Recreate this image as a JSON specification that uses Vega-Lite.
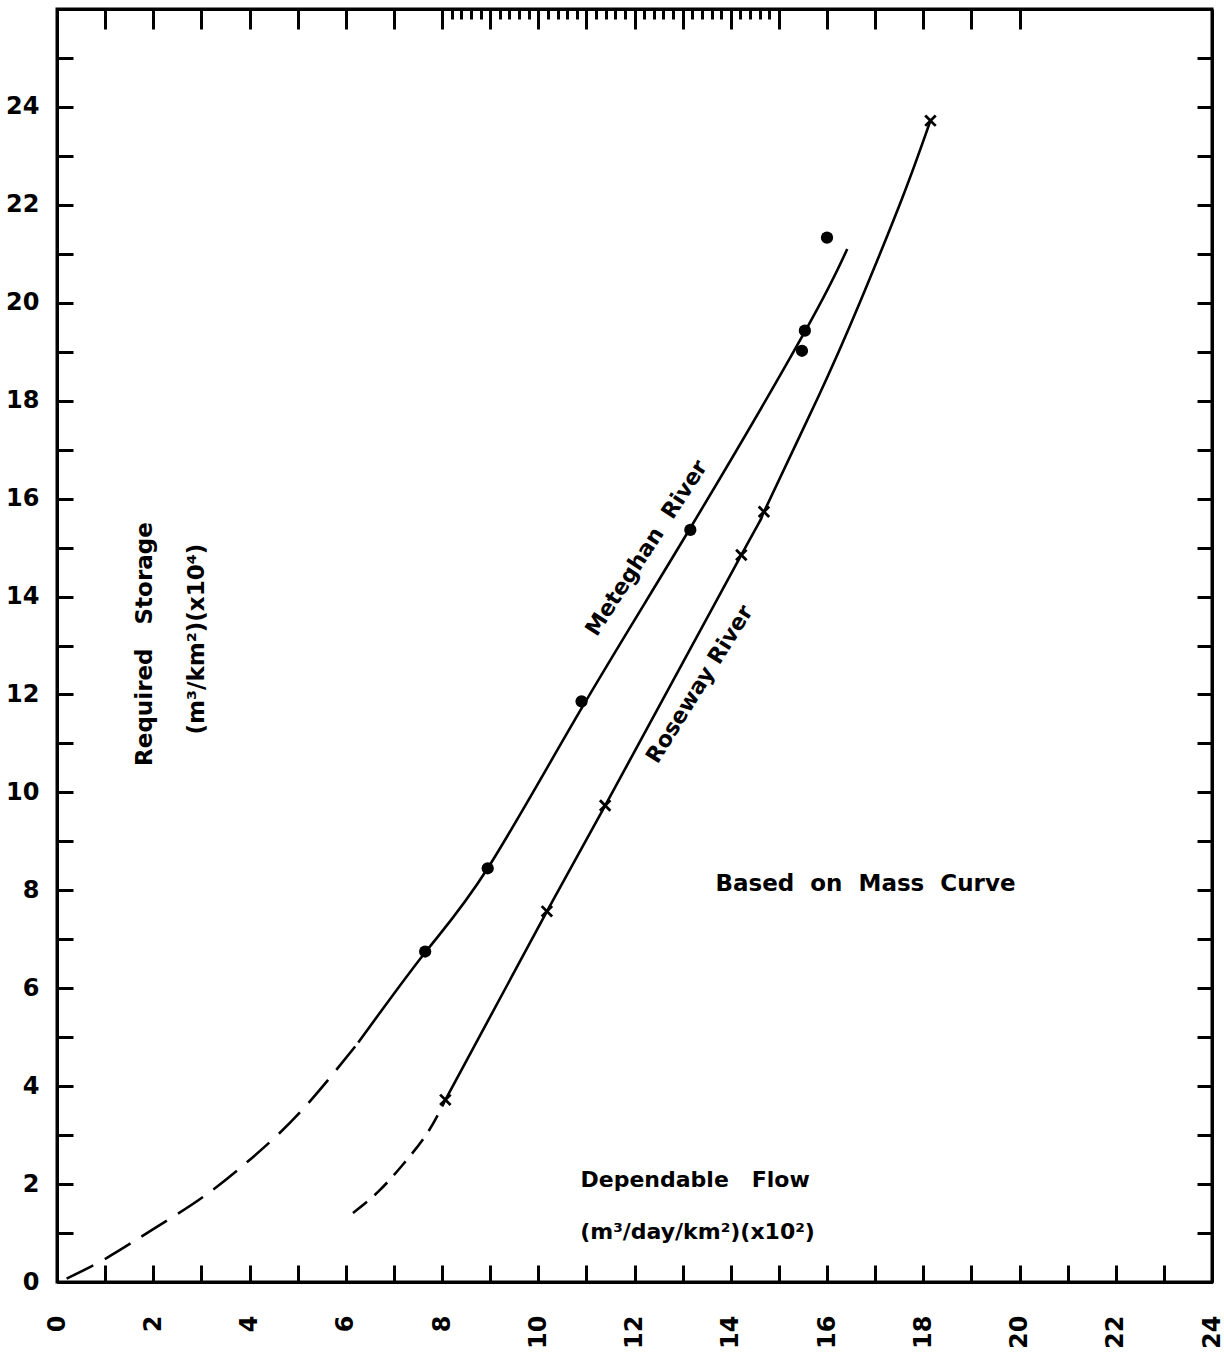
{
  "$schema": "https://vega.github.io/schema/vega-lite/v6.json",
  "width": 1155,
  "height": 1273,
  "autosize": {"type": "none"},
  "padding": {"left": 57, "top": 9, "right": 12, "bottom": 78},
  "background": "white",
  "config": {
    "view": {"stroke": "black", "strokeWidth": 3},
    "axis": {"grid": false, "domainColor": "black", "domainWidth": 3, "tickColor": "black", "tickWidth": 3, "labelColor": "black", "labelFont": "DejaVu Sans", "labelFontWeight": "bold", "labelFontSize": 24, "title": null},
    "text": {"font": "DejaVu Sans", "fontWeight": "bold", "color": "black"}
  },
  "datasets": {
    "curves": [
      {"seg": "Mdash", "x": 0.2, "y": 0.07},
      {"seg": "Mdash", "x": 1.03, "y": 0.49},
      {"seg": "Mdash", "x": 2.0, "y": 1.08},
      {"seg": "Mdash", "x": 3.04, "y": 1.74},
      {"seg": "Mdash", "x": 4.07, "y": 2.55},
      {"seg": "Mdash", "x": 5.1, "y": 3.52},
      {"seg": "Mdash", "x": 6.26, "y": 4.89},
      {"seg": "Msolid", "x": 6.26, "y": 4.89},
      {"seg": "Msolid", "x": 7.65, "y": 6.73},
      {"seg": "Msolid", "x": 8.95, "y": 8.45},
      {"seg": "Msolid", "x": 10.92, "y": 11.75},
      {"seg": "Msolid", "x": 13.16, "y": 15.4},
      {"seg": "Msolid", "x": 15.54, "y": 19.41},
      {"seg": "Msolid", "x": 16.42, "y": 21.1},
      {"seg": "Rdash", "x": 6.15, "y": 1.41},
      {"seg": "Rdash", "x": 6.67, "y": 1.84},
      {"seg": "Rdash", "x": 7.18, "y": 2.39},
      {"seg": "Rdash", "x": 7.7, "y": 3.05},
      {"seg": "Rdash", "x": 8.07, "y": 3.72},
      {"seg": "Rsolid", "x": 8.07, "y": 3.72},
      {"seg": "Rsolid", "x": 10.18, "y": 7.57},
      {"seg": "Rsolid", "x": 11.39, "y": 9.73},
      {"seg": "Rsolid", "x": 14.22, "y": 14.85},
      {"seg": "Rsolid", "x": 14.69, "y": 15.73},
      {"seg": "Rsolid", "x": 15.8, "y": 18.04},
      {"seg": "Rsolid", "x": 16.68, "y": 20.0},
      {"seg": "Rsolid", "x": 17.56, "y": 22.13},
      {"seg": "Rsolid", "x": 18.15, "y": 23.72}
    ],
    "obs": [
      {"series": "Meteghan", "x": 7.65, "y": 6.75},
      {"series": "Meteghan", "x": 8.95, "y": 8.45},
      {"series": "Meteghan", "x": 10.9, "y": 11.86},
      {"series": "Meteghan", "x": 13.16, "y": 15.36},
      {"series": "Meteghan", "x": 15.54, "y": 19.43},
      {"series": "Meteghan", "x": 15.48, "y": 19.02},
      {"series": "Meteghan", "x": 16.0, "y": 21.33},
      {"series": "Roseway", "x": 8.07, "y": 3.72},
      {"series": "Roseway", "x": 10.18, "y": 7.57},
      {"series": "Roseway", "x": 11.39, "y": 9.73},
      {"series": "Roseway", "x": 14.22, "y": 14.85},
      {"series": "Roseway", "x": 14.69, "y": 15.73},
      {"series": "Roseway", "x": 18.15, "y": 23.72}
    ],
    "labels": [
      {"id": "met", "text": "Meteghan\u00a0\u00a0River", "x": 12.25, "y": 14.99},
      {"id": "ros", "text": "Roseway\u00a0River", "x": 13.35, "y": 12.21},
      {"id": "mass", "text": "Based\u00a0\u00a0on\u00a0\u00a0Mass\u00a0\u00a0Curve", "x": 16.8, "y": 8.12},
      {"id": "xt1", "text": "Dependable\u00a0\u00a0\u00a0Flow", "x": 13.26, "y": 2.09},
      {"id": "xt2", "text": "(m³/day/km²)(x10²)", "x": 13.31, "y": 1.02},
      {"id": "yt1", "text": "Required\u00a0\u00a0\u00a0Storage", "x": 1.83, "y": 13.03},
      {"id": "yt2", "text": "(m³/km²)(x10⁴)", "x": 2.9, "y": 13.13}
    ]
  },
  "resolve": {"axis": {"x": "independent", "y": "independent"}},
  "layer": [
    {
      "data": {"name": "curves"},
      "transform": [{"filter": "datum.seg === 'Msolid'"}],
      "mark": {"type": "line", "interpolate": "natural", "stroke": "black", "strokeWidth": 2.6},
      "encoding": {
        "x": {"field": "x", "type": "quantitative", "scale": {"domain": [0, 24], "nice": false, "zero": false},
          "axis": {"orient": "bottom", "values": [0,1,2,3,4,5,6,7,8,9,10,11,12,13,14,15,16,17,18,19,20,21,22,23,24], "labelExpr": "datum.value % 2 === 0 ? datum.label : ''", "labelAngle": 270, "tickSize": -17, "labelPadding": 50, "labelFlush": false}},
        "y": {"field": "y", "type": "quantitative", "scale": {"domain": [0, 26], "nice": false, "zero": false},
          "axis": {"orient": "left", "values": [0,1,2,3,4,5,6,7,8,9,10,11,12,13,14,15,16,17,18,19,20,21,22,23,24,25], "labelExpr": "datum.value % 2 === 0 ? datum.label : ''", "tickSize": -16, "labelPadding": 34, "labelFlush": false}}
      }
    },
    {
      "data": {"name": "curves"},
      "transform": [{"filter": "datum.seg === 'Rsolid'"}],
      "mark": {"type": "line", "interpolate": "natural", "stroke": "black", "strokeWidth": 2.6},
      "encoding": {
        "x": {"field": "x", "type": "quantitative",
          "axis": {"orient": "top", "values": [1,2,3,4,5,6,7,8,8.2,8.4,8.6,8.8,9,9.2,9.4,9.6,9.8,10,10.2,10.4,10.6,10.8,11,11.2,11.4,11.6,11.8,12,12.2,12.4,12.6,12.8,13,13.2,13.4,13.6,13.8,14,14.2,14.4,14.6,14.8,15,16,17,18,19,20], "labels": false,
            "tickSize": {"condition": {"test": "abs(datum.value - round(datum.value)) > 0.01", "value": -10}, "value": -20}}},
        "y": {"field": "y", "type": "quantitative",
          "axis": {"orient": "right", "values": [0,1,2,3,4,5,6,7,8,9,10,11,12,13,14,15,16,17,18,19,20,21,22,23,24,25], "labels": false, "tickSize": -15}}
      }
    },
    {
      "data": {"name": "curves"},
      "transform": [{"filter": "datum.seg === 'Mdash'"}],
      "mark": {"type": "line", "interpolate": "natural", "stroke": "black", "strokeWidth": 2.6, "strokeDash": [30, 13]},
      "encoding": {
        "x": {"field": "x", "type": "quantitative", "axis": null},
        "y": {"field": "y", "type": "quantitative", "axis": null}
      }
    },
    {
      "data": {"name": "curves"},
      "transform": [{"filter": "datum.seg === 'Rdash'"}],
      "mark": {"type": "line", "interpolate": "natural", "stroke": "black", "strokeWidth": 2.6, "strokeDash": [18, 10]},
      "encoding": {
        "x": {"field": "x", "type": "quantitative", "axis": null},
        "y": {"field": "y", "type": "quantitative", "axis": null}
      }
    },
    {
      "data": {"name": "obs"},
      "transform": [{"filter": "datum.series === 'Meteghan'"}],
      "mark": {"type": "point", "shape": "circle", "filled": true, "color": "black", "opacity": 1, "size": 150},
      "encoding": {
        "x": {"field": "x", "type": "quantitative", "axis": null},
        "y": {"field": "y", "type": "quantitative", "axis": null}
      }
    },
    {
      "data": {"name": "obs"},
      "transform": [{"filter": "datum.series === 'Roseway'"}],
      "mark": {"type": "point", "shape": "M-1,-1L1,1M1,-1L-1,1", "filled": false, "stroke": "black", "strokeWidth": 2.8, "opacity": 1, "size": 110},
      "encoding": {
        "x": {"field": "x", "type": "quantitative", "axis": null},
        "y": {"field": "y", "type": "quantitative", "axis": null}
      }
    },
    {
      "data": {"name": "labels"},
      "transform": [{"filter": "datum.id === 'met'"}],
      "mark": {"type": "text", "angle": -57, "fontSize": 22, "align": "center", "baseline": "middle"},
      "encoding": {
        "x": {"field": "x", "type": "quantitative", "axis": null},
        "y": {"field": "y", "type": "quantitative", "axis": null},
        "text": {"field": "text"}
      }
    },
    {
      "data": {"name": "labels"},
      "transform": [{"filter": "datum.id === 'ros'"}],
      "mark": {"type": "text", "angle": -58, "fontSize": 22, "align": "center", "baseline": "middle"},
      "encoding": {
        "x": {"field": "x", "type": "quantitative", "axis": null},
        "y": {"field": "y", "type": "quantitative", "axis": null},
        "text": {"field": "text"}
      }
    },
    {
      "data": {"name": "labels"},
      "transform": [{"filter": "datum.id === 'mass'"}],
      "mark": {"type": "text", "angle": 0, "fontSize": 23, "align": "center", "baseline": "middle"},
      "encoding": {
        "x": {"field": "x", "type": "quantitative", "axis": null},
        "y": {"field": "y", "type": "quantitative", "axis": null},
        "text": {"field": "text"}
      }
    },
    {
      "data": {"name": "labels"},
      "transform": [{"filter": "datum.id === 'xt1' || datum.id === 'xt2'"}],
      "mark": {"type": "text", "angle": 0, "fontSize": 22, "align": "center", "baseline": "middle"},
      "encoding": {
        "x": {"field": "x", "type": "quantitative", "axis": null},
        "y": {"field": "y", "type": "quantitative", "axis": null},
        "text": {"field": "text"}
      }
    },
    {
      "data": {"name": "labels"},
      "transform": [{"filter": "datum.id === 'yt1' || datum.id === 'yt2'"}],
      "mark": {"type": "text", "angle": 270, "fontSize": 23, "align": "center", "baseline": "middle"},
      "encoding": {
        "x": {"field": "x", "type": "quantitative", "axis": null},
        "y": {"field": "y", "type": "quantitative", "axis": null},
        "text": {"field": "text"}
      }
    }
  ]
}
